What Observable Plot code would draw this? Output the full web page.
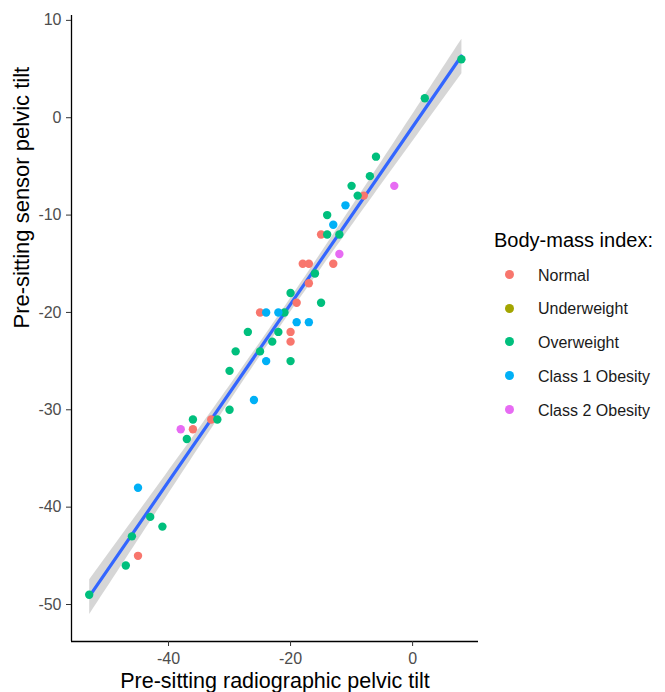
<!DOCTYPE html>
<html>
<head>
<meta charset="utf-8">
<script src="https://cdn.jsdelivr.net/npm/d3@7"></script>
<script src="https://cdn.jsdelivr.net/npm/@observablehq/plot@0.6"></script>
<style>
  html, body { margin: 0; padding: 0; background: #fff; }
  #wrap { position: relative; width: 665px; height: 692px; font-family: "Liberation Sans", Arial, sans-serif; }
  #legend { position: absolute; left: 0; top: 0; width: 665px; height: 692px; pointer-events: none; }
  .lg-title { position: absolute; left: 494px; top: 227px; font-size: 20px; color: #000; white-space: nowrap; line-height: 26px; }
  .lg-item { position: absolute; left: 505px; font-size: 16px; color: #1a1a1a; white-space: nowrap; line-height: 20px; }
  .lg-dot { display: inline-block; width: 9px; height: 9px; border-radius: 50%; margin-right: 24px; vertical-align: middle; position: relative; top: -2px; }
</style>
</head>
<body>
<div id="wrap"><div id="chart"></div><div id="legend"></div></div>
<script>
const categories = ["Normal", "Underweight", "Overweight", "Class 1 Obesity", "Class 2 Obesity"];
const categoryColors = ["#F8766D", "#A3A500", "#00BF7D", "#00B0F6", "#E76BF3"];

const normalX = [-45, -36, -33, -25, -19, -20, -20, -18, -17, -17, -13, -15, -8];
const normalY = [-45, -32, -31, -20, -19, -22, -23, -15, -15, -17, -15, -12, -8];

const overweightX = [-53, -47, -46, -43, -41, -37, -36, -32, -30, -30, -29, -27, -25, -21, -23, -22, -20, -20, -16, -15, 8, 2, -6, -7, -10, -9, -14, -14, -12];
const overweightY = [-49, -46, -43, -41, -42, -33, -31, -31, -30, -26, -24, -22, -24, -20, -23, -22, -18, -25, -16, -19, 6, 2, -4, -6, -7, -8, -10, -12, -12];

const obesity1X = [-45, -26, -24, -24, -22, -19, -17, -11, -13];
const obesity1Y = [-38, -29, -25, -20, -20, -21, -21, -9, -11];

const obesity2X = [-38, -12, -3];
const obesity2Y = [-32, -14, -7];

const xTicks = [-40, -20, 0];
const yTicks = [10, 0, -10, -20, -30, -40, -50];
const xLabel = "Pre-sitting radiographic pelvic tilt";
const yLabel = "Pre-sitting sensor pelvic tilt";
const legendTitle = "Body-mass index:";

const groups = [
  ["Normal", normalX, normalY],
  ["Overweight", overweightX, overweightY],
  ["Class 1 Obesity", obesity1X, obesity1Y],
  ["Class 2 Obesity", obesity2X, obesity2Y]
];
const data = groups.flatMap(([bmi, xs, ys]) => xs.map((x, i) => ({x, y: ys[i], bmi})));

const xDomain = [-55.9, 10.8];
const yDomain = [-53.8, 10.5];

const chart = Plot.plot({
  width: 665,
  height: 692,
  marginLeft: 71,
  marginRight: 187,
  marginTop: 15,
  marginBottom: 51,
  style: { fontFamily: "Liberation Sans, Arial, sans-serif", background: "#fff" },
  x: { domain: xDomain },
  y: { domain: yDomain },
  color: { domain: categories, range: categoryColors, legend: false },
  marks: [
    Plot.linearRegressionY(data, { x: "x", y: "y", stroke: "#3366FF", strokeWidth: 3.2, fill: "#999999", fillOpacity: 0.4 }),
    Plot.dot(data, { x: "x", y: "y", fill: "bmi", r: 4.2 }),
    Plot.ruleX([xDomain[0]], { stroke: "#000", strokeWidth: 1.3 }),
    Plot.ruleY([yDomain[0]], { stroke: "#000", strokeWidth: 1.3 }),
    Plot.axisX({ ticks: xTicks, tickFormat: d => String(d), tickSize: 5, tickPadding: 6, fontSize: 16, fill: "#4d4d4d", stroke: "#333", label: null }),
    Plot.axisY({ ticks: yTicks, tickFormat: d => String(d), tickSize: 5, tickPadding: 5, fontSize: 16, fill: "#4d4d4d", stroke: "#333", label: null }),
    Plot.text([xLabel], { text: d => d, frameAnchor: "bottom", dy: 40, fontSize: 21.5, fill: "#000", lineAnchor: "middle" }),
    Plot.text([yLabel], { text: d => d, frameAnchor: "left", dx: -50, rotate: -90, fontSize: 22, fill: "#000", lineAnchor: "middle" })
  ]
});
document.getElementById("chart").appendChild(chart);

const legend = document.getElementById("legend");
const t = document.createElement("div");
t.className = "lg-title";
t.textContent = legendTitle;
legend.appendChild(t);
categories.forEach((c, i) => {
  const item = document.createElement("div");
  item.className = "lg-item";
  item.style.top = (265.7 + i * 33.7) + "px";
  const dot = document.createElement("span");
  dot.className = "lg-dot";
  dot.style.background = categoryColors[i];
  item.appendChild(dot);
  item.appendChild(document.createTextNode(c));
  legend.appendChild(item);
});
</script>
</body>
</html>
